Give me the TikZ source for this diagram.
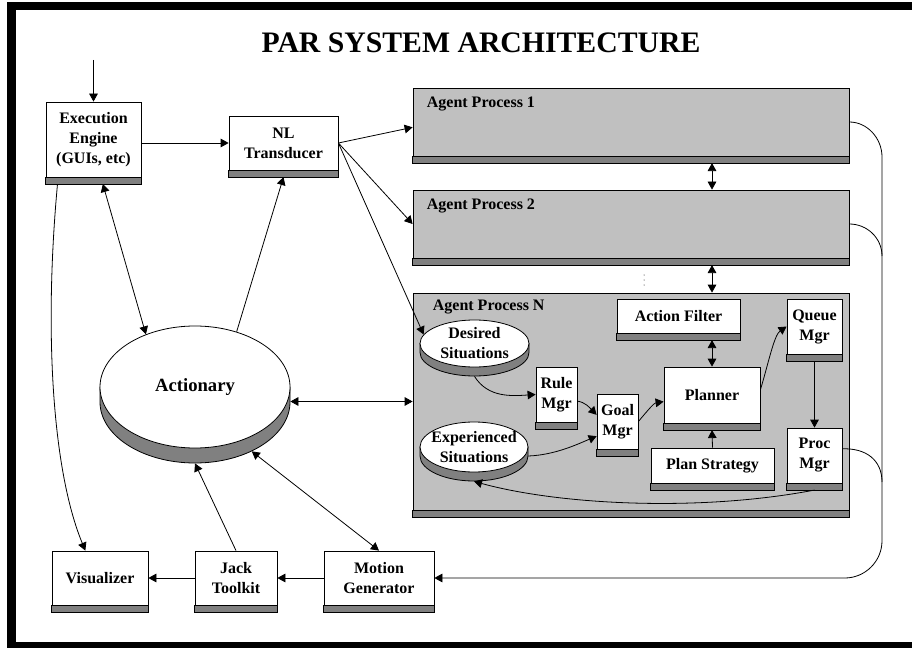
\documentclass[tikz,border=0pt]{standalone}
\usepackage{fontspec}
\setmainfont{Liberation Serif}
\usetikzlibrary{arrows.meta,shapes.geometric}
\definecolor{agentgray}{HTML}{C0C0C0}
\definecolor{bargray}{HTML}{808080}
\begin{document}
\begin{tikzpicture}[x=0.75pt,y=-0.75pt,line width=0.6pt,
    >={Triangle[length=6pt,width=6.5pt]},
    every node/.style={font=\bfseries\fontsize{12}{15}\selectfont},
    unit/.style={draw,fill=white,align=center,inner sep=0pt},
    agent/.style={draw,fill=agentgray,minimum width=327pt},
    store/.style={ellipse,draw,fill=white,align=center,inner xsep=-5pt,inner ysep=-3pt}]
  \useasboundingbox (0,0) rectangle (912,648);
  \node[font=\bfseries\fontsize{22.3}{26}\selectfont,anchor=base] (title) at (481,53) {PAR SYSTEM ARCHITECTURE};

  % agent processes
  \node[agent,minimum height=51pt] (ap1) at (631,122) {};
  \node[agent,minimum height=51pt] (ap2) at (631,224) {};
  \node[agent,minimum height=162.75pt] (apN) at (631,401.5) {};
  \node[anchor=west] (ap1t) at (422,104) {Agent Process 1};
  \node[anchor=west] (ap2t) at (422,206) {Agent Process 2};
  \node[anchor=west] (apNt) at (428,307) {Agent Process N};
  \foreach \y in {275,280,285}
    \fill (644,\y) circle (0.5);

  % bases of the stores
  \foreach \cx/\cy/\rx/\ry/\d in {195/387/95/61/15, 474.5/343.5/54.5/23.5/9, 474/447/54/25/9}
    \filldraw[fill=bargray] (\cx-\rx,\cy) -- ++(0,\d) arc[start angle=180,end angle=0,x radius=\rx,y radius=\ry] -- (\cx+\rx,\cy) -- cycle;
  \node[store,minimum width=142.5pt,minimum height=91.5pt,font=\bfseries\fontsize{14}{17}\selectfont] (act) at (195,387) {Actionary};
  \node[store,minimum width=81.75pt,minimum height=35.25pt] (desired) at (474.5,343.5) {Desired\\Situations};
  \node[store,minimum width=81pt,minimum height=37.5pt] (exp) at (474,447) {Experienced\\Situations};

  \node[unit,minimum width=71.25pt,minimum height=56.25pt] (exec) at (93.5,139.5) {Execution\\Engine\\(GUIs, etc)};
  \node[unit,minimum width=81.75pt,minimum height=40.5pt] (nl) at (283.5,143) {NL\\Transducer};
  \node[unit,minimum width=72pt,minimum height=40.5pt] (vis) at (100,578) {Visualizer};
  \node[unit,minimum width=61.5pt,minimum height=40.5pt] (jack) at (236,578) {Jack\\Toolkit};
  \node[unit,minimum width=82.5pt,minimum height=40.5pt] (mot) at (379,578) {Motion\\Generator};
  \node[unit,minimum width=92.25pt,minimum height=25.5pt] (af) at (678.5,316) {Action Filter};
  \node[unit,minimum width=41.25pt,minimum height=41.25pt] (queue) at (814.5,326.5) {Queue\\Mgr};
  \node[unit,minimum width=30.75pt,minimum height=41.25pt] (rule) at (556.5,394.5) {Rule\\Mgr};
  \node[unit,minimum width=30.75pt,minimum height=41.25pt] (goal) at (617.5,421.5) {Goal\\Mgr};
  \node[unit,minimum width=72pt,minimum height=42pt] (planner) at (712,395) {Planner};
  \node[unit,minimum width=92.25pt,minimum height=26.25pt] (ps) at (712.5,465.5) {Plan Strategy};
  \node[unit,minimum width=41.25pt,minimum height=41.25pt] (proc) at (814.5,455.5) {Proc\\Mgr};

  % shadow bars under every box
  \foreach \n in {ap1,ap2,apN,exec,nl,vis,jack,mot,af,queue,rule,goal,planner,ps,proc}
    \filldraw[fill=bargray] (\n.south west) rectangle ([yshift=-5pt]\n.south east);

  % connections
  \coordinate (input) at (93.5,60);
  \draw[->] (input) -- (exec.north);
  \draw[->] (exec.east |- nl.west) -- (nl.west);
  \draw[->] (nl.east) -- ([yshift=-4pt]ap1.west);
  \draw[->] (nl.east) -- (ap2.west);
  \draw[->] (nl.east) -- (desired.170);
  \draw[<->] ([xshift=7pt,yshift=-5pt]exec.south) -- (act.133);
  \draw[->] (act.53) -- ([yshift=-5pt]nl.south);
  \draw[->] ([xshift=-27pt,yshift=-5pt]exec.south) .. controls (44,330) and (52,470) .. ([xshift=-11pt]vis.north);
  \draw[<->] (apN.west -| act.east) -- (apN.west);
  \draw[->] (jack.north) -- ([yshift=-11.25pt]act.south);
  \draw[<->] ([yshift=-11.25pt]act.-41) -- (mot.north);
  \draw[->] (mot.west) -- (jack.east);
  \draw[->] (jack.west) -- (vis.east);
  \draw[<->] ([yshift=-5pt]ap1.south -| planner.north) -- (ap2.north -| planner.north);
  \draw[<->] ([yshift=-5pt]ap2.south -| planner.north) -- (apN.north -| planner.north);

  % inside agent process N
  \draw[->] ([yshift=-6.75pt]desired.south) .. controls (488,398) and (512,396) .. (rule.west);
  \draw[->] ([yshift=-5pt]rule.east) .. controls (585,402) and (590,408) .. ([yshift=5pt]goal.west);
  \draw[->] ([yshift=-6.75pt]exp.east) .. controls (555,455) and (578,444) .. ([yshift=-11pt]goal.west);
  \draw[->] (goal.east) .. controls (648,410) and (654,403) .. ([yshift=-5pt]planner.west);
  \draw[<->] ([yshift=-5pt]af.south -| planner.north) -- (planner.north);
  \draw[->] (ps.north) -- ([yshift=-5pt]planner.south);
  \draw[->] ([yshift=4pt]planner.east) .. controls (768,365) and (774,335) .. (queue.west);
  \draw[->] ([yshift=-5pt]queue.south) -- (proc.north);
  \draw[->] ([yshift=-5pt]proc.south) .. controls (700,512) and (560,505) .. ([yshift=-6.75pt]exp.south);

  % feedback line to the motion generator
  \coordinate (busA) at (882,157);
  \coordinate (busB) at (882,256);
  \coordinate (busC) at (882,482);
  \draw[->] (ap1.east) .. controls (867,122) and (882,138) .. (busA) [rounded corners=28pt] |- (mot.east);
  \draw (ap2.east) .. controls (867,224) and (882,238) .. (busB);
  \draw ([yshift=5pt]proc.east) .. controls (866,448) and (882,460) .. (busC);

  % frame
  \draw[line width=6.5pt] (11.5,6) rectangle (925,646);
\end{tikzpicture}
\end{document}
